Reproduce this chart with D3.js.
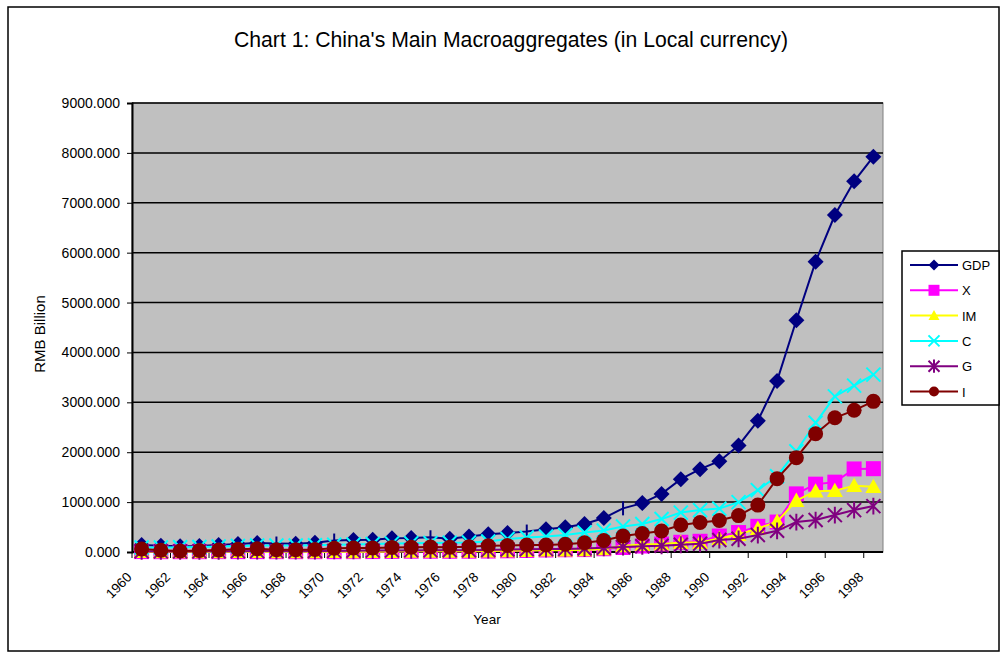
<!DOCTYPE html>
<html>
<head>
<meta charset="utf-8">
<title>Chart 1: China's Main Macroaggregates</title>
<script src="https://d3js.org/d3.v7.min.js"></script>
<style>
	body { margin: 0; background: #fff; }
	svg { display: block; font-family: "Liberation Sans", Arial, sans-serif; }
</style>
</head>
<body>
<svg width="1002" height="655"></svg>

<script>
// categories (years) and series, RMB billion
var years = [1960, 1961, 1962, 1963, 1964, 1965, 1966, 1967, 1968, 1969,
	1970, 1971, 1972, 1973, 1974, 1975, 1976, 1977, 1978, 1979,
	1980, 1981, 1982, 1983, 1984, 1985, 1986, 1987, 1988, 1989,
	1990, 1991, 1992, 1993, 1994, 1995, 1996, 1997, 1998];

var gdp = [140, 125, 115, 120, 140, 160, 180, 170, 165, 185,
	230, 240, 245, 275, 280, 295, 265, 310, 355, 380,
	410, 455, 495, 560, 680, 875, 980, 1165, 1460, 1660,
	1820, 2135, 2630, 3430, 4645, 5820, 6755, 7430, 7925];
var exportsX = [8, 6, 6, 6, 7, 7, 7, 6, 6, 6,
	6, 7, 8, 12, 15, 15, 14, 15, 18, 24,
	30, 40, 45, 48, 65, 90, 120, 160, 195, 215,
	320, 390, 515, 600, 1165, 1360, 1400, 1665, 1670];
var importsIM = [7, 5, 4, 4, 5, 6, 6, 5, 5, 5,
	6, 5, 6, 10, 15, 15, 13, 13, 19, 24,
	30, 37, 36, 42, 62, 125, 150, 160, 190, 190,
	270, 350, 470, 610, 1030, 1220, 1230, 1330, 1310];
var consC = [90, 90, 95, 100, 110, 120, 130, 130, 130, 135,
	145, 150, 160, 170, 175, 180, 185, 190, 210, 260,
	290, 310, 340, 390, 430, 510, 560, 660, 790, 840,
	870, 1000, 1240, 1520, 2020, 2590, 3120, 3335, 3555];
var govG = [15, 12, 12, 13, 15, 17, 18, 18, 17, 20,
	22, 25, 28, 30, 32, 33, 34, 36, 40, 50,
	55, 58, 62, 70, 85, 100, 115, 125, 145, 165,
	240, 265, 340, 425, 600, 640, 740, 840, 920];
var invI = [60, 35, 20, 30, 40, 55, 65, 45, 45, 50,
	75, 80, 80, 90, 95, 100, 95, 105, 125, 130,
	140, 140, 155, 185, 230, 320, 370, 420, 540, 590,
	630, 730, 940, 1470, 1890, 2370, 2690, 2840, 3020];

// GDP points drawn with a short vertical bar instead of a diamond
var gdpBarYears = [1967, 1970, 1975, 1980, 1985];

var yTicks = [0, 1000, 2000, 3000, 4000, 5000, 6000, 7000, 8000, 9000];

var series = [
	{name: 'GDP', values: gdp, color: '#000080', marker: 'diamond'},
	{name: 'X', values: exportsX, color: '#FF00FF', marker: 'square'},
	{name: 'IM', values: importsIM, color: '#FFFF00', marker: 'triangle'},
	{name: 'C', values: consC, color: '#00FFFF', marker: 'cross'},
	{name: 'G', values: govG, color: '#800080', marker: 'star'},
	{name: 'I', values: invI, color: '#800000', marker: 'circle'}
];

var plotL = 132, plotR = 883, plotT = 103, plotB = 552;

var svg = d3.select('svg');

// outer chart border
svg.append('rect')
	.attr('x', 8).attr('y', 7)
	.attr('width', 991).attr('height', 644)
	.attr('fill', '#fff')
	.attr('stroke', '#000')
	.attr('stroke-width', 1.5);

svg.append('text')
	.attr('x', 511).attr('y', 47)
	.attr('text-anchor', 'middle')
	.attr('font-size', 21.2)
	.text("Chart 1: China's Main Macroaggregates (in Local currency)");

var x = d3.scaleBand().domain(years).range([plotL, plotR]).padding(0);
var y = d3.scaleLinear().domain([0, 9000]).range([plotB, plotT]);
var cx = function(i) { return x(years[i]) + x.bandwidth() / 2; };

// plot area
svg.append('rect')
	.attr('x', plotL).attr('y', plotT)
	.attr('width', plotR - plotL).attr('height', plotB - plotT)
	.attr('fill', '#C0C0C0')
	.attr('stroke', '#808080')
	.attr('stroke-width', 1);

svg.append('g')
	.selectAll('line')
	.data(yTicks.slice(1))
	.enter()
	.append('line')
	.attr('x1', plotL).attr('x2', plotR)
	.attr('y1', function(d) { return y(d); })
	.attr('y2', function(d) { return y(d); })
	.attr('stroke', '#000')
	.attr('stroke-width', 1.5);

// y axis
var yAxis = svg.append('g')
	.attr('transform', 'translate(' + plotL + ',0)')
	.call(d3.axisLeft(y).tickValues(yTicks).tickSize(5).tickPadding(7)
		.tickFormat(d3.format('.3f')));
yAxis.select('.domain').attr('stroke', '#000').attr('stroke-width', 2);
yAxis.selectAll('.tick line').attr('stroke', '#000');
yAxis.selectAll('text').attr('font-size', 14).attr('fill', '#000')
	.attr('font-family', '"Liberation Sans", Arial, sans-serif');

// x axis: ticks between every second category
var labelYears = years.filter(function(d, i) { return i % 2 === 0; });
var xg = svg.append('g');
xg.append('line')
	.attr('x1', plotL).attr('x2', plotR)
	.attr('y1', plotB).attr('y2', plotB)
	.attr('stroke', '#000').attr('stroke-width', 2);
xg.selectAll('line.tk')
	.data(labelYears)
	.enter()
	.append('line')
	.attr('class', 'tk')
	.attr('x1', function(d) { return x(d); })
	.attr('x2', function(d) { return x(d); })
	.attr('y1', plotB).attr('y2', plotB + 6)
	.attr('stroke', '#000');
xg.selectAll('text')
	.data(labelYears)
	.enter()
	.append('text')
	.attr('text-anchor', 'end')
	.attr('font-size', 13.5)
	.attr('transform', function(d) {
		return 'translate(' + (x(d) + x.bandwidth() / 2 - 9) + ',' + 578 + ') rotate(-45)';
	})
	.text(function(d) { return d; });

svg.append('text')
	.attr('x', 487).attr('y', 624)
	.attr('text-anchor', 'middle')
	.attr('font-size', 13.5)
	.text('Year');

svg.append('text')
	.attr('transform', 'translate(45,' + 334 + ') rotate(-90)')
	.attr('text-anchor', 'middle')
	.attr('font-size', 15)
	.text('RMB Billion');

// marker shapes
function markerPath(type, s) {
	if (type === 'diamond') return 'M0,' + (-s) + 'L' + s + ',0L0,' + s + 'L' + (-s) + ',0Z';
	if (type === 'square') return 'M' + (-s) + ',' + (-s) + 'h' + 2 * s + 'v' + 2 * s + 'h' + (-2 * s) + 'Z';
	if (type === 'triangle') return 'M0,' + (-s) + 'L' + s + ',' + s * 0.8 + 'L' + (-s) + ',' + s * 0.8 + 'Z';
	if (type === 'cross') return 'M' + (-s) + ',' + (-s) + 'L' + s + ',' + s + 'M' + s + ',' + (-s) + 'L' + (-s) + ',' + s;
	if (type === 'star') return 'M' + (-s) + ',' + (-s) + 'L' + s + ',' + s + 'M' + s + ',' + (-s) + 'L' + (-s) + ',' + s +
		'M0,' + (-s * 1.2) + 'V' + (s * 1.2);
	if (type === 'bar') return 'M0,-7V7';
	return d3.symbol(d3.symbolCircle, Math.PI * s * s)();
}
function isStroked(type) { return type === 'cross' || type === 'star' || type === 'bar'; }
function markerType(s, i) {
	return (s.name === 'GDP' && gdpBarYears.indexOf(years[i]) >= 0) ? 'bar' : s.marker;
}
function markerSize(t) {
	if (t === 'cross' || t === 'star') return 7;
	if (t === 'square' || t === 'circle') return 7.5;
	return 8;
}

var line = d3.line()
	.x(function(d, i) { return cx(i); })
	.y(function(d) { return y(d); });

var plot = svg.append('g');
series.forEach(function(s) {
	var g = plot.append('g');
	g.append('path')
		.attr('d', line(s.values))
		.attr('fill', 'none')
		.attr('stroke', s.color)
		.attr('stroke-width', 2);
	g.selectAll('path.mk')
		.data(s.values)
		.enter()
		.append('path')
		.attr('class', 'mk')
		.attr('transform', function(d, i) { return 'translate(' + cx(i) + ',' + y(d) + ')'; })
		.attr('d', function(d, i) {
			var t = markerType(s, i);
			return markerPath(t, markerSize(t));
		})
		.attr('fill', function(d, i) { return isStroked(markerType(s, i)) ? 'none' : s.color; })
		.attr('stroke', s.color)
		.attr('stroke-width', function(d, i) { return isStroked(markerType(s, i)) ? 2 : 0; });
});

// legend
var lg = svg.append('g');
lg.append('rect')
	.attr('x', 902).attr('y', 251)
	.attr('width', 97).attr('height', 154)
	.attr('fill', '#fff')
	.attr('stroke', '#000')
	.attr('stroke-width', 1.5);
var items = lg.selectAll('g.item')
	.data(series)
	.enter()
	.append('g')
	.attr('class', 'item')
	.attr('transform', function(d, i) { return 'translate(0,' + (265 + i * 25.3) + ')'; });
items.append('line')
	.attr('x1', 910).attr('x2', 958)
	.attr('stroke', function(d) { return d.color; })
	.attr('stroke-width', 2);
items.append('path')
	.attr('transform', 'translate(934,0)')
	.attr('d', function(d) { return markerPath(d.marker, d.marker === 'circle' ? 5 : 5.5); })
	.attr('fill', function(d) { return isStroked(d.marker) ? 'none' : d.color; })
	.attr('stroke', function(d) { return d.color; })
	.attr('stroke-width', function(d) { return isStroked(d.marker) ? 2 : 0; });
items.append('text')
	.attr('x', 962).attr('y', 5)
	.attr('font-size', 13)
	.text(function(d) { return d.name; });
</script>
</body>
</html>
